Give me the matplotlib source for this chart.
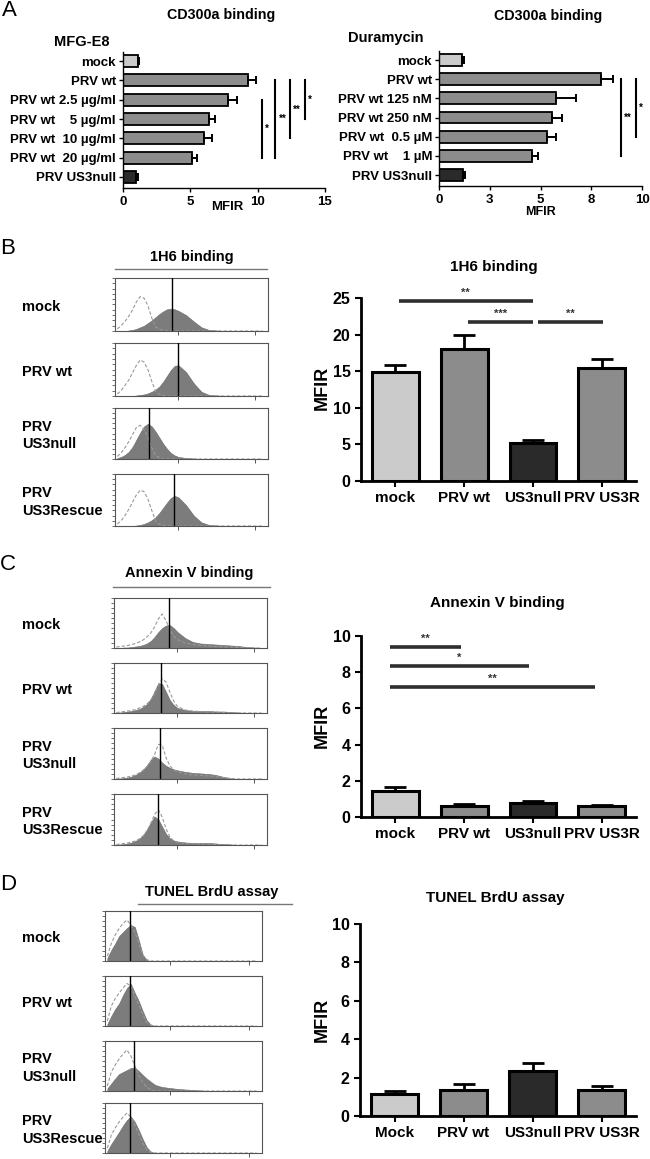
import numpy as np
import matplotlib
matplotlib.use("Agg")
import matplotlib.pyplot as plt
from matplotlib.ticker import MultipleLocator, LogLocator, NullFormatter

plt.rcParams['font.family'] = ['Liberation Sans', 'DejaVu Sans']
plt.rcParams['font.weight'] = 'bold'

W, H = 650, 1159

# ---- panel A: CD300a binding, horizontal bars ----
mfg_labels = ['mock', 'PRV wt', 'PRV wt 2.5 µg/ml', 'PRV wt    5 µg/ml',
              'PRV wt  10 µg/ml', 'PRV wt  20 µg/ml', 'PRV US3null']
mfg_vals = [1.1, 9.3, 7.8, 6.4, 6.0, 5.1, 1.0]
mfg_errs = [0.1, 0.6, 0.65, 0.4, 0.6, 0.4, 0.1]
mfg_sig = [(2, 5, 10.3, '*'), (1, 5, 11.3, '**'), (1, 4, 12.4, '**'), (1, 3, 13.5, '*')]

dura_labels = ['mock', 'PRV wt', 'PRV wt 125 nM', 'PRV wt 250 nM',
               'PRV wt  0.5 µM', 'PRV wt    1 µM', 'PRV US3null']
dura_vals = [1.15, 8.0, 5.75, 5.57, 5.32, 4.58, 1.2]
dura_errs = [0.1, 0.55, 1.0, 0.48, 0.43, 0.3, 0.1]
dura_sig = [(1, 5, 8.97, '**'), (1, 4, 9.7, '*')]

# ---- flow histograms: heights at log10 fluorescence positions ----
grid = [-0.6, -0.5, -0.4, -0.3, -0.2, -0.1, 0.0, 0.1, 0.2, 0.3, 0.4, 0.5, 0.6, 0.7,
        0.8, 0.9, 1.0, 1.2, 1.4, 1.6, 1.8, 2.0, 2.2, 2.4, 2.6, 2.8, 3.0, 3.2]
row_names = ['mock', 'PRV wt', 'PRV\nUS3null', 'PRV\nUS3Rescue']

h6_fill = [
    [0, 0, 0, 0.01, 0.02, 0.04, 0.07, 0.10, 0.15, 0.20, 0.26, 0.32, 0.37, 0.41, 0.42, 0.41, 0.38, 0.30, 0.18, 0.07, 0.02, 0.01, 0, 0, 0, 0, 0, 0],
    [0, 0, 0, 0, 0, 0.01, 0.02, 0.03, 0.05, 0.08, 0.12, 0.18, 0.27, 0.38, 0.49, 0.57, 0.58, 0.45, 0.24, 0.08, 0.02, 0.01, 0, 0, 0, 0, 0, 0],
    [0.02, 0.04, 0.08, 0.14, 0.24, 0.38, 0.52, 0.64, 0.69, 0.64, 0.54, 0.42, 0.30, 0.20, 0.12, 0.07, 0.04, 0.02, 0.01, 0, 0, 0, 0, 0, 0, 0, 0, 0],
    [0, 0, 0, 0, 0, 0.01, 0.02, 0.04, 0.07, 0.11, 0.17, 0.25, 0.35, 0.45, 0.54, 0.58, 0.55, 0.40, 0.20, 0.07, 0.02, 0.01, 0, 0, 0, 0, 0, 0],
]
h6_dash = [
    [0.04, 0.10, 0.18, 0.28, 0.40, 0.55, 0.65, 0.62, 0.48, 0.25, 0.08, 0.03, 0.01, 0, 0, 0, 0, 0, 0, 0, 0, 0, 0, 0, 0, 0, 0, 0],
    [0.04, 0.10, 0.20, 0.30, 0.44, 0.58, 0.68, 0.64, 0.50, 0.28, 0.09, 0.03, 0.01, 0, 0, 0, 0, 0, 0, 0, 0, 0, 0, 0, 0, 0, 0, 0],
    [0.05, 0.12, 0.22, 0.34, 0.48, 0.62, 0.66, 0.58, 0.42, 0.22, 0.08, 0.02, 0, 0, 0, 0, 0, 0, 0, 0, 0, 0, 0, 0, 0, 0, 0, 0],
    [0.04, 0.10, 0.20, 0.32, 0.46, 0.60, 0.69, 0.66, 0.52, 0.30, 0.10, 0.03, 0.01, 0, 0, 0, 0, 0, 0, 0, 0, 0, 0, 0, 0, 0, 0, 0],
]
h6_mfi = [0.82, 0.99, 0.24, 0.88]

anx_fill = [
    [0, 0, 0.01, 0.01, 0.02, 0.03, 0.04, 0.06, 0.09, 0.14, 0.22, 0.32, 0.40, 0.45, 0.46, 0.40, 0.32, 0.20, 0.12, 0.09, 0.08, 0.07, 0.06, 0.05, 0.04, 0.02, 0.01, 0],
    [0.01, 0.01, 0.02, 0.03, 0.04, 0.06, 0.08, 0.12, 0.18, 0.28, 0.44, 0.60, 0.58, 0.42, 0.26, 0.16, 0.10, 0.06, 0.04, 0.04, 0.04, 0.03, 0.03, 0.02, 0.01, 0, 0, 0],
    [0.01, 0.01, 0.02, 0.03, 0.05, 0.08, 0.12, 0.18, 0.27, 0.38, 0.44, 0.40, 0.32, 0.26, 0.22, 0.19, 0.17, 0.14, 0.12, 0.11, 0.10, 0.08, 0.04, 0.01, 0, 0, 0, 0],
    [0.01, 0.01, 0.02, 0.03, 0.05, 0.08, 0.12, 0.19, 0.30, 0.44, 0.56, 0.50, 0.36, 0.22, 0.13, 0.09, 0.07, 0.05, 0.04, 0.04, 0.04, 0.03, 0.02, 0.01, 0, 0, 0, 0],
]
anx_dash = [
    [0.02, 0.03, 0.04, 0.05, 0.07, 0.09, 0.12, 0.16, 0.22, 0.30, 0.42, 0.58, 0.68, 0.55, 0.36, 0.24, 0.17, 0.10, 0.07, 0.05, 0.04, 0.03, 0.02, 0.02, 0.01, 0, 0, 0],
    [0.01, 0.02, 0.03, 0.04, 0.05, 0.07, 0.10, 0.13, 0.18, 0.26, 0.38, 0.55, 0.68, 0.62, 0.42, 0.24, 0.13, 0.06, 0.04, 0.03, 0.02, 0.02, 0.01, 0, 0, 0, 0, 0],
    [0.01, 0.02, 0.03, 0.04, 0.06, 0.08, 0.12, 0.17, 0.24, 0.34, 0.48, 0.68, 0.66, 0.42, 0.26, 0.18, 0.14, 0.10, 0.08, 0.07, 0.06, 0.05, 0.03, 0.01, 0, 0, 0, 0],
    [0.01, 0.02, 0.03, 0.04, 0.06, 0.08, 0.12, 0.18, 0.28, 0.42, 0.60, 0.69, 0.55, 0.32, 0.16, 0.08, 0.05, 0.03, 0.03, 0.02, 0.02, 0.01, 0, 0, 0, 0, 0, 0],
]
anx_mfi = [0.78, 0.58, 0.55, 0.50]

tun_fill = [
    [0.06, 0.22, 0.35, 0.50, 0.58, 0.66, 0.72, 0.68, 0.42, 0.13, 0.02, 0, 0, 0, 0, 0, 0, 0, 0, 0, 0, 0, 0, 0, 0, 0, 0, 0],
    [0.04, 0.20, 0.34, 0.45, 0.62, 0.76, 0.84, 0.66, 0.50, 0.30, 0.12, 0.03, 0, 0, 0, 0, 0, 0, 0, 0, 0, 0, 0, 0, 0, 0, 0, 0],
    [0.05, 0.15, 0.25, 0.34, 0.38, 0.42, 0.46, 0.47, 0.40, 0.32, 0.25, 0.19, 0.13, 0.10, 0.08, 0.07, 0.06, 0.04, 0.03, 0.02, 0.01, 0, 0, 0, 0, 0, 0, 0],
    [0.04, 0.18, 0.30, 0.42, 0.55, 0.66, 0.73, 0.62, 0.46, 0.28, 0.12, 0.03, 0, 0, 0, 0, 0, 0, 0, 0, 0, 0, 0, 0, 0, 0, 0, 0],
]
tun_dash = [
    [0.10, 0.35, 0.52, 0.65, 0.75, 0.82, 0.72, 0.58, 0.36, 0.12, 0.03, 0, 0, 0, 0, 0, 0, 0, 0, 0, 0, 0, 0, 0, 0, 0, 0, 0],
    [0.10, 0.40, 0.55, 0.66, 0.76, 0.85, 0.80, 0.60, 0.42, 0.24, 0.08, 0.02, 0, 0, 0, 0, 0, 0, 0, 0, 0, 0, 0, 0, 0, 0, 0, 0],
    [0.10, 0.38, 0.52, 0.64, 0.74, 0.82, 0.70, 0.50, 0.32, 0.18, 0.08, 0.03, 0, 0, 0, 0, 0, 0, 0, 0, 0, 0, 0, 0, 0, 0, 0, 0],
    [0.10, 0.36, 0.50, 0.62, 0.72, 0.80, 0.72, 0.56, 0.38, 0.20, 0.07, 0.02, 0, 0, 0, 0, 0, 0, 0, 0, 0, 0, 0, 0, 0, 0, 0, 0],
]
tun_mfi = [-0.035, -0.02, 0.08, -0.025]

# ---- right-hand bar charts ----
h6_labels = ['mock', 'PRV wt', 'US3null', 'PRV US3R']
h6_vals = [14.9, 18.0, 5.2, 15.4]
h6_errs = [1.0, 1.9, 0.4, 1.2]
h6_sig = [(0.05, 2.0, 24.6, '**'), (1.05, 2.0, 21.7, '***'), (2.08, 3.02, 21.7, '**')]

anx_labels = ['mock', 'PRV wt', 'US3null', 'PRV US3R']
anx_vals = [1.44, 0.62, 0.78, 0.62]
anx_errs = [0.22, 0.08, 0.08, 0.06]
anx_sig = [(-0.08, 0.95, 9.4, '**'), (-0.08, 1.95, 8.35, '*'), (-0.08, 2.9, 7.2, '**')]

tun_labels = ['Mock', 'PRV wt', 'US3null', 'PRV US3R']
tun_vals = [1.13, 1.38, 2.35, 1.35]
tun_errs = [0.15, 0.27, 0.40, 0.20]

c_light, c_mid, c_dark = '#cbcbcb', '#8c8c8c', '#2a2a2a'
bar_colors = [c_light, c_mid, c_dark, c_mid]


def rect(l, t, r, b):
    return [l / W, 1 - b / H, (r - l) / W, (b - t) / H]


fig = plt.figure(figsize=(W / 100, H / 100), dpi=100)


def ftext(x, y, s, **kw):
    fig.text(x / W, 1 - y / H, s, **kw)


def hbar_panel(box, labels, vals, errs, xmax, xticks, xtlabels, sig, star_off):
    ax = fig.add_axes(rect(*box))
    y = np.arange(len(vals))
    cols = [c_light] + [c_mid] * (len(vals) - 2) + [c_dark]
    ax.barh(y, vals, height=0.62, color=cols, edgecolor='black', linewidth=1.3, zorder=2)
    ax.errorbar(vals, y, xerr=[np.zeros(len(errs)), errs], fmt='none', ecolor='black',
                elinewidth=1.4, capsize=3, capthick=1.4, zorder=3)
    ax.set_ylim(6.57, -0.47)
    ax.set_xlim(0, xmax)
    ax.set_yticks(y, labels, fontsize=9.5)
    ax.set_xticks(xticks, xtlabels, fontsize=9.5)
    ax.tick_params(length=3, width=1)
    ax.tick_params(axis='y', pad=2)
    ax.tick_params(axis='x', pad=2.5)
    for s in ['top', 'right']:
        ax.spines[s].set_visible(False)
    for s in ['left', 'bottom']:
        ax.spines[s].set_linewidth(1)
    for a, b, x, lab in sig:
        ax.plot([x, x], [a, b], color='black', lw=1.5, clip_on=False)
        ax.text(x + star_off, (a + b) / 2, lab, fontsize=7, ha='left', va='center')
    return ax


hbar_panel((123, 52, 325, 188), mfg_labels, mfg_vals, mfg_errs, 15,
           [0, 5, 10, 15], ['0', '5', '10', '15'], mfg_sig, 0.25)
hbar_panel((439, 51, 642, 186), dura_labels, dura_vals, dura_errs, 10,
           [0, 2.5, 5, 7.5, 10], ['0', '3', '5', '8', '10'], dura_sig, 0.15)

ftext(9, 11, 'A', fontsize=16, fontweight='normal', ha='center', va='center')
ftext(221, 15, 'CD300a binding', fontsize=10.3, ha='center', va='center')
ftext(548, 16, 'CD300a binding', fontsize=10.3, ha='center', va='center')
ftext(54, 42, 'MFG-E8', fontsize=10.5, ha='left', va='center')
ftext(348, 38, 'Duramycin', fontsize=10.5, ha='left', va='center')
ftext(227, 207, 'MFIR', fontsize=9.5, ha='center', va='center')
ftext(540, 212, 'MFIR', fontsize=9, ha='center', va='center')


def hist_column(x0, x1, rows, fills, dashes, mfis):
    xs = 10 ** np.array(grid)
    for (t, b), f, d, m, name in zip(rows, fills, dashes, mfis, row_names):
        ax = fig.add_axes(rect(x0, t, x1, b))
        ax.fill_between(xs, f, color='#7c7c7c', lw=0.4, edgecolor='#6a6a6a', zorder=2)
        ax.plot(xs, d, color='#999999', ls=(0, (3, 1.8)), lw=0.8, zorder=3)
        ax.axvline(10 ** m, color='black', lw=1, zorder=4)
        ax.set_xscale('log')
        ax.set_xlim(10 ** -0.66, 10 ** 3.34)
        ax.set_ylim(0, 1)
        ax.yaxis.set_major_locator(MultipleLocator(0.1))
        ax.xaxis.set_major_locator(LogLocator(base=10))
        ax.xaxis.set_minor_locator(LogLocator(base=10, subs=np.arange(2, 10)))
        ax.xaxis.set_major_formatter(NullFormatter())
        ax.xaxis.set_minor_formatter(NullFormatter())
        ax.tick_params(axis='y', length=2, width=0.6, labelleft=False, color='#555555')
        ax.tick_params(axis='x', which='major', length=3, width=0.7, color='#555555')
        ax.tick_params(axis='x', which='minor', length=1.8, width=0.5, color='#555555')
        for s in ax.spines.values():
            s.set_color('#555555')
            s.set_linewidth(0.8)
        ftext(22, (t + b) / 2 + 2, name, fontsize=10.5, ha='left', va='center',
              linespacing=1.3)


def vbar_panel(box, labels, vals, errs, ymax, ystep, sig, sig_dy):
    ax = fig.add_axes(rect(*box))
    x = np.arange(len(vals))
    ax.bar(x, vals, width=0.68, color=bar_colors, edgecolor='black', lw=2.2, zorder=2)
    ax.errorbar(x, vals, yerr=[np.zeros(len(errs)), errs], fmt='none', ecolor='black',
                elinewidth=2, capsize=8, capthick=2, zorder=1)
    ax.set_xlim(-0.5, 3.5)
    ax.set_ylim(0, ymax)
    ax.set_xticks(x, labels, fontsize=11)
    ax.set_yticks(np.arange(0, ymax + 0.1, ystep))
    ax.tick_params(axis='y', labelsize=11.5, length=4, width=1.5)
    ax.tick_params(axis='x', length=4, width=1.5)
    for s in ['top', 'right']:
        ax.spines[s].set_visible(False)
    for s in ['left', 'bottom']:
        ax.spines[s].set_linewidth(2)
    for a, b, yv, lab in sig:
        ax.plot([a, b], [yv, yv], color='#2e2e2e', lw=2.6, solid_capstyle='butt', clip_on=False)
        ax.text((a + b) / 2, yv + sig_dy, lab, fontsize=8, ha='center', va='center',
                color='#333333', clip_on=False)
    return ax


# B
ftext(8, 248, 'B', fontsize=16, fontweight='normal', ha='center', va='center')
ftext(192, 257, '1H6 binding', fontsize=10.5, ha='center', va='center')
fig.add_artist(plt.Line2D([115 / W, 267 / W], [1 - 269 / H, 1 - 269 / H], color='#777777', lw=1))
hist_column(115, 268, [(278, 331), (343, 396), (408, 459), (474, 526)], h6_fill, h6_dash, h6_mfi)
vbar_panel((361, 298, 636, 481), h6_labels, h6_vals, h6_errs, 25, 5, h6_sig, 1.1)
ftext(494, 267, '1H6 binding', fontsize=11, ha='center', va='center')
ftext(322, 388, 'MFIR', fontsize=13, rotation=90, ha='center', va='center')

# C
ftext(8, 565, 'C', fontsize=16, fontweight='normal', ha='center', va='center')
ftext(189, 573, 'Annexin V binding', fontsize=10.5, ha='center', va='center')
fig.add_artist(plt.Line2D([113 / W, 270 / W], [1 - 587 / H, 1 - 587 / H], color='#777777', lw=1))
hist_column(114, 267, [(598, 648), (663, 713), (728, 779), (794, 845)], anx_fill, anx_dash, anx_mfi)
vbar_panel((361, 636, 636, 817), anx_labels, anx_vals, anx_errs, 10, 2, anx_sig, 0.42)
ftext(497, 603, 'Annexin V binding', fontsize=11, ha='center', va='center')
ftext(322, 726, 'MFIR', fontsize=13, rotation=90, ha='center', va='center')

# D
ftext(8, 885, 'D', fontsize=16, fontweight='normal', ha='center', va='center')
ftext(212, 892, 'TUNEL BrdU assay', fontsize=10.5, ha='center', va='center')
fig.add_artist(plt.Line2D([138 / W, 292 / W], [1 - 904 / H, 1 - 904 / H], color='#777777', lw=1))
hist_column(105, 262, [(911, 961), (976, 1026), (1041, 1091), (1103, 1153)], tun_fill, tun_dash, tun_mfi)
vbar_panel((360, 924, 636, 1116), tun_labels, tun_vals, tun_errs, 10, 2, [], 0)
ftext(495, 898, 'TUNEL BrdU assay', fontsize=11, ha='center', va='center')
ftext(322, 1020, 'MFIR', fontsize=13, rotation=90, ha='center', va='center')

fig.savefig('out.png', dpi=100)
